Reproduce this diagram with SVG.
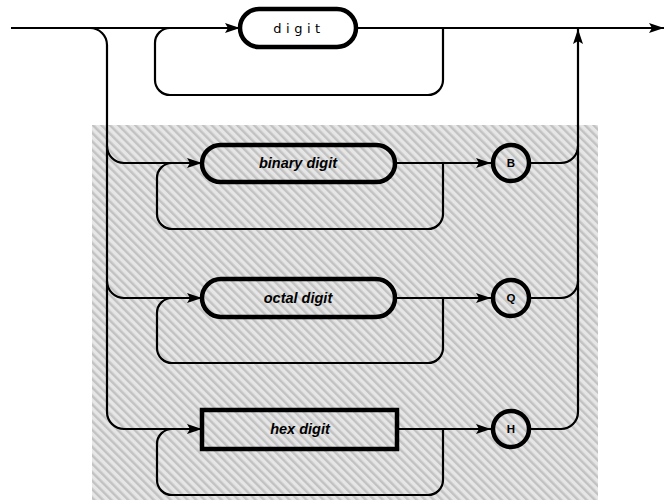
<svg xmlns="http://www.w3.org/2000/svg" width="665" height="500" viewBox="0 0 665 500">
<defs>
<pattern id="hatch" width="6" height="6" patternUnits="userSpaceOnUse" patternTransform="rotate(-45)">
<rect width="6" height="6" fill="#e6e6e6"/>
<rect width="2.5" height="6" fill="#c2c2c2"/>
</pattern>
<marker id="arr" markerUnits="userSpaceOnUse" markerWidth="16" markerHeight="12" refX="15" refY="5" orient="auto">
<path d="M0,0 L15,5 L0,10 L3,5 Z" fill="#000"/>
</marker>
</defs>
<style>
.ln{fill:none;stroke:#000;stroke-width:2.2}
.nd{fill:none;stroke:#000;stroke-width:4.5}
.ci{fill:none;stroke:#000;stroke-width:4.5}
.lbl{font-family:"Liberation Sans",Arial,sans-serif;font-size:14.5px;font-weight:bold;font-style:italic;text-anchor:middle}
.dg{font-family:"DejaVu Sans","Liberation Sans",sans-serif;font-size:13px;letter-spacing:4.5px;text-anchor:middle}
.cl{font-family:"Liberation Sans",Arial,sans-serif;font-size:11.5px;font-weight:bold;text-anchor:middle}
</style>
<rect x="92" y="125" width="506" height="375" fill="url(#hatch)"/>
<g id="connectors">
<path class="ln" d="M11,28 H240" marker-end="url(#arr)"/>
<path class="ln" d="M357,28 H664" marker-end="url(#arr)"/>
<path class="ln" d="M443,28 V80 A15,15 0 0 1 428,95 H170 A15,15 0 0 1 155,80 V43 A15,15 0 0 1 170,28"/>
<path class="ln" d="M90,28 A17,17 0 0 1 107,45 V412 A17,17 0 0 0 124,429 H202" marker-end="url(#arr)"/>
<path class="ln" d="M107,146 A17,17 0 0 0 124,163 H202" marker-end="url(#arr)"/>
<path class="ln" d="M107,281 A17,17 0 0 0 124,298 H202" marker-end="url(#arr)"/>
<path class="ln" d="M443,163 V214 A15,15 0 0 1 428,229 H172 A15,15 0 0 1 157,214 V178 A15,15 0 0 1 172,163"/>
<path class="ln" d="M443,298 V348 A15,15 0 0 1 428,363 H172 A15,15 0 0 1 157,348 V313 A15,15 0 0 1 172,298"/>
<path class="ln" d="M443,429 V480 A15,15 0 0 1 428,495 H172 A15,15 0 0 1 157,480 V444 A15,15 0 0 1 172,429"/>
<path class="ln" d="M395,163 H491" marker-end="url(#arr)"/>
<path class="ln" d="M395,298 H491" marker-end="url(#arr)"/>
<path class="ln" d="M397,429 H491" marker-end="url(#arr)"/>
<path class="ln" d="M531,163 H561 A17,17 0 0 0 578,146"/>
<path class="ln" d="M531,298 H561 A17,17 0 0 0 578,281"/>
<path class="ln" d="M531,429 H561 A17,17 0 0 0 578,412 V29" marker-end="url(#arr)"/>
</g>
<g id="digit">
<rect class="nd" x="240" y="9" width="116" height="38" rx="19" fill="#fff"/>
<text class="dg" x="299" y="33">digit</text>
</g>
<g id="binary">
<rect class="nd" x="202" y="145" width="193" height="37" rx="18.5"/>
<text class="lbl" x="298" y="168">binary digit</text>
</g>
<g id="octal">
<rect class="nd" x="202" y="279" width="193" height="38" rx="19"/>
<text class="lbl" x="298" y="303">octal digit</text>
</g>
<g id="hex">
<rect class="nd" x="202" y="410" width="195" height="39"/>
<text class="lbl" x="300" y="434">hex digit</text>
</g>
<g id="B">
<circle class="ci" cx="511" cy="163" r="18"/>
<text class="cl" x="511" y="167">B</text>
</g>
<g id="Q">
<circle class="ci" cx="511" cy="298" r="18"/>
<text class="cl" x="511" y="302">Q</text>
</g>
<g id="H">
<circle class="ci" cx="511" cy="429" r="18"/>
<text class="cl" x="511" y="433">H</text>
</g>
</svg>
